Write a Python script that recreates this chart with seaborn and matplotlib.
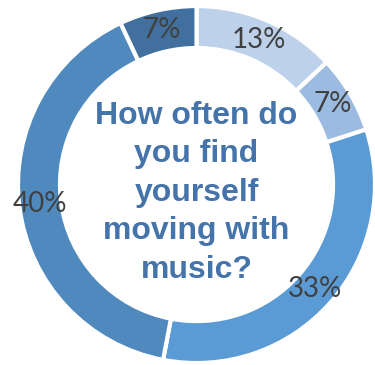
import matplotlib
matplotlib.use("Agg")
import matplotlib.pyplot as plt
import seaborn as sns

# Survey responses, clockwise from 12 o'clock
shares = [13, 7, 33, 40, 7]
slice_colors = ["#BDD1EB", "#9BBBE1", "#5B9BD5", "#4F89BE", "#42709E"]
question = "How often do\nyou find\nyourself\nmoving with\nmusic?"

sns.set_theme(style="white")
plt.rcParams["font.family"] = ["Lato", "DejaVu Sans"]

fig = plt.figure(figsize=(3.75, 3.65), dpi=100)
ax = fig.add_axes([0, 0, 1, 1])

wedges, texts, autotexts = ax.pie(
    shares,
    colors=slice_colors,
    startangle=90,
    counterclock=False,
    radius=1.0,
    autopct="%.0f%%",
    pctdistance=0.885,
    wedgeprops=dict(width=0.235, edgecolor="white", linewidth=3),
    textprops=dict(color="#404040", fontsize=20),
)

ax.text(0.0, -0.045, question, ha="center", va="center",
        family=["Liberation Sans", "DejaVu Sans"], fontweight="bold",
        fontsize=23, color="#4574AA", linespacing=1.37)

ax.set_xlim(-1.101, 1.0)
ax.set_ylim(-1.011, 1.034)
ax.set_aspect("auto")
ax.axis("off")

fig.savefig("out.png", dpi=100, facecolor="white")
